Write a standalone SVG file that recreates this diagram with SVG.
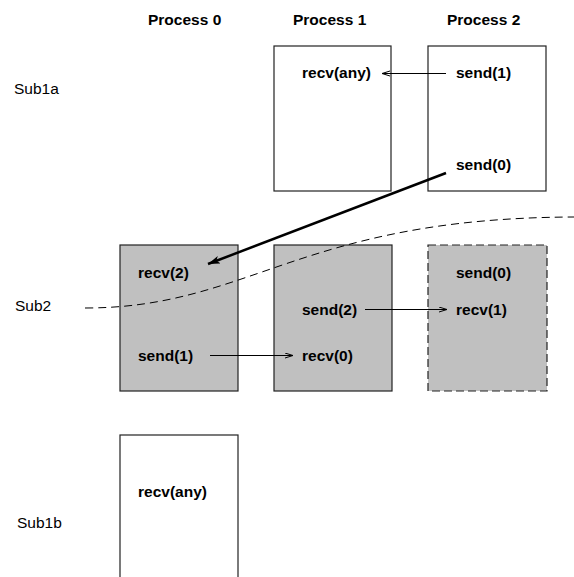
<svg xmlns="http://www.w3.org/2000/svg" width="574" height="577" viewBox="0 0 574 577">
<style>
.box{fill:#fff;stroke:#222;stroke-width:1.2}
.grey{fill:#c0c0c0;stroke:#222;stroke-width:1.2}
.dbox{fill:#c0c0c0;stroke:#222;stroke-width:1.2;stroke-dasharray:8 4}
.b{font-family:"Liberation Sans",Arial,sans-serif;font-weight:bold;font-size:15.5px;fill:#000}
.r{font-family:"Liberation Sans",Arial,sans-serif;font-size:15.5px;fill:#000}
.thin{stroke:#000;stroke-width:1;fill:none}
.thick{stroke:#000;stroke-width:2.5;fill:none}
</style>
<defs>
<marker id="open" markerUnits="userSpaceOnUse" markerWidth="10" markerHeight="8" refX="8" refY="3" orient="auto">
<path d="M0,0.5 L8,3 L0,5.5" fill="none" stroke="#000" stroke-width="1"/>
</marker>
<marker id="filled" markerUnits="userSpaceOnUse" markerWidth="14" markerHeight="10" refX="12" refY="4" orient="auto">
<path d="M0,0 L12,4 L0,8 L3,4 Z" fill="#000"/>
</marker>
</defs>
<g id="headings">
<text class="b" x="148" y="25">Process 0</text>
<text class="b" x="293" y="25">Process 1</text>
<text class="b" x="447" y="25">Process 2</text>
</g>
<g id="rowlabels">
<text class="r" x="14" y="94">Sub1a</text>
<text class="r" x="15" y="311">Sub2</text>
<text class="r" x="17" y="528">Sub1b</text>
</g>
<g id="sub1a-p1">
<rect class="box" x="274" y="46" width="117" height="145"/>
<text class="b" x="302" y="78">recv(any)</text>
</g>
<g id="sub1a-p2">
<rect class="box" x="428" y="46" width="118" height="145"/>
<text class="b" x="456" y="78">send(1)</text>
<text class="b" x="456" y="170">send(0)</text>
</g>
<g id="sub2-p0">
<rect class="grey" x="120" y="245" width="118" height="146"/>
<text class="b" x="138" y="278">recv(2)</text>
<text class="b" x="138" y="361">send(1)</text>
</g>
<g id="sub2-p1">
<rect class="grey" x="274" y="245" width="118" height="146"/>
<text class="b" x="302" y="315">send(2)</text>
<text class="b" x="302" y="361">recv(0)</text>
</g>
<g id="sub2-p2">
<rect class="dbox" x="428" y="245" width="119" height="146"/>
<text class="b" x="456" y="278">send(0)</text>
<text class="b" x="456" y="315">recv(1)</text>
</g>
<g id="sub1b-p0">
<rect class="box" x="120" y="435" width="118" height="160"/>
<text class="b" x="138" y="497">recv(any)</text>
</g>
<g id="connectors">
<path class="thin" d="M85,308 C250,308 300,218 574,217" stroke-dasharray="8 5"/>
<line class="thin" x1="446" y1="73.5" x2="382" y2="73.5" marker-end="url(#open)"/>
<line class="thin" x1="365" y1="309.5" x2="447" y2="309.5" marker-end="url(#open)"/>
<line class="thin" x1="210" y1="355.5" x2="293" y2="355.5" marker-end="url(#open)"/>
<line class="thick" x1="446" y1="173" x2="208" y2="264" marker-end="url(#filled)"/>
</g>
</svg>
